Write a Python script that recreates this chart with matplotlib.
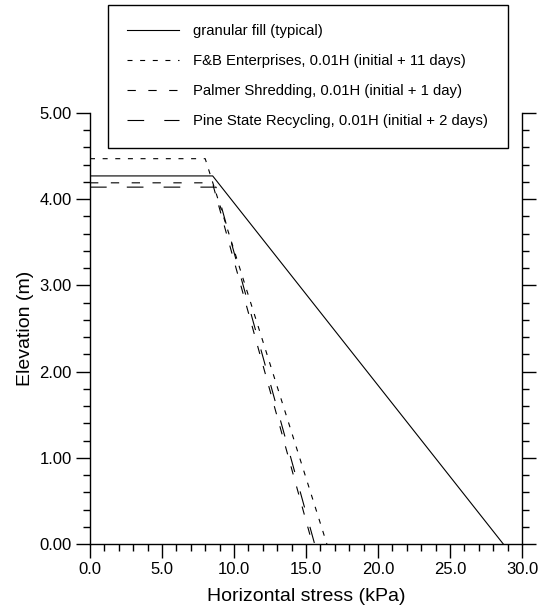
import matplotlib
matplotlib.use('Agg')
import numpy as np
from matplotlib import pyplot as plt
from matplotlib.ticker import MultipleLocator, FormatStrFormatter

# horizontal stress (kPa) vs elevation (m)
fill_stress = [0.0, 8.52, 28.7]
fill_elev = [4.27, 4.27, 0.0]
fb_stress = [0.0, 8.0, 16.45]
fb_elev = [4.47, 4.47, 0.0]
palmer_stress = [0.0, 8.5, 15.45]
palmer_elev = [4.19, 4.19, 0.0]
pine_stress = [0.0, 8.75, 15.6]
pine_elev = [4.14, 4.14, 0.0]

labels = ['granular fill (typical)',
          'F&B Enterprises, 0.01H (initial + 11 days)',
          'Palmer Shredding, 0.01H (initial + 1 day)',
          'Pine State Recycling, 0.01H (initial + 2 days)']

plt.rcParams['font.family'] = ['Liberation Sans', 'DejaVu Sans']
plt.rcParams['lines.scale_dashes'] = False

fig = plt.figure(figsize=(5.4, 6.07), dpi=100)
ax = fig.add_axes([90/540, 1 - 544/607, 432/540, 431/607])

lw = 0.8
l1, = ax.plot(fill_stress, fill_elev, color='black', lw=lw)
l2, = ax.plot(fb_stress, fb_elev, color='black', lw=lw, dashes=(3.6, 5.5))
l3, = ax.plot(palmer_stress, palmer_elev, color='black', lw=lw, dashes=(6, 9))
l4, = ax.plot(pine_stress, pine_elev, color='black', lw=lw, dashes=(12, 14.5))

ax.set_xlim(0, 30)
ax.set_ylim(0, 5)
ax.xaxis.set_major_locator(MultipleLocator(5))
ax.xaxis.set_minor_locator(MultipleLocator(1))
ax.yaxis.set_major_locator(MultipleLocator(1))
ax.yaxis.set_minor_locator(MultipleLocator(0.2))
ax.xaxis.set_major_formatter(FormatStrFormatter('%.1f'))
ax.yaxis.set_major_formatter(FormatStrFormatter('%.2f'))

ax.spines['top'].set_visible(False)
for s in ['left', 'right', 'bottom']:
    ax.spines[s].set_linewidth(1.0)
ax.tick_params(which='both', direction='out', left=True, right=True,
               bottom=True, top=False, labelright=False, width=1.0)
ax.tick_params(which='major', length=10, labelsize=12, pad=3)
ax.tick_params(which='minor', length=5)

ax.set_xlabel('Horizontal stress (kPa)', fontsize=14, labelpad=8)
ax.set_ylabel('Elevation (m)', fontsize=14, labelpad=4)

leg = fig.legend([l1, l2, l3, l4], labels, loc='upper left',
                 bbox_to_anchor=(108/540, 1 - 5/607), fontsize=10.7,
                 frameon=True, fancybox=False, framealpha=1, edgecolor='black',
                 handlelength=3.5, handletextpad=0.95, labelspacing=1.08,
                 borderpad=1.3, borderaxespad=0)
leg.get_frame().set_linewidth(1.0)

fig.savefig('out.png', dpi=100)
